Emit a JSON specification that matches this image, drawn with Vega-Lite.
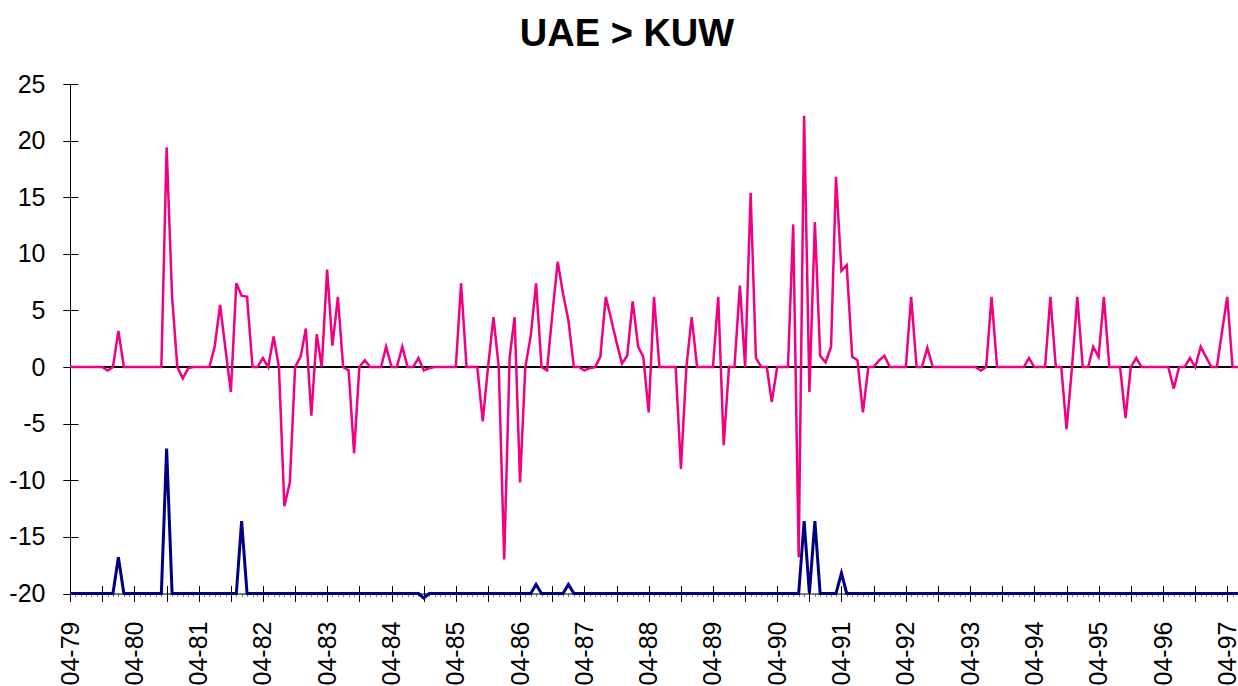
{
  "$schema": "https://vega.github.io/schema/vega-lite/v6.json",
  "autosize": "none",
  "width": 1168,
  "height": 509.5,
  "padding": {"left": 70, "top": 84, "right": 0, "bottom": 92.5},
  "background": "white",
  "config": {
    "view": {"stroke": null},
    "font": "Liberation Sans",
    "axis": {"grid": false, "title": null, "labelFont": "Liberation Sans", "labelColor": "black", "tickColor": "black", "domainColor": "black"}
  },
  "title": {
    "text": "UAE > KUW",
    "font": "Liberation Sans",
    "fontSize": 38,
    "fontWeight": "bold",
    "color": "black",
    "anchor": "middle",
    "frame": "group",
    "dx": -27,
    "offset": 18
  },
  "data": {
    "format": {"parse": {"m": "utc:'%Y-%m'"}},
    "values": [
      {"m":"1979-04","p":0,"n":-20},{"m":"1979-05","p":0,"n":-20},{"m":"1979-06","p":0,"n":-20},{"m":"1979-07","p":0,"n":-20},{"m":"1979-08","p":0,"n":-20},{"m":"1979-09","p":0,"n":-20},{"m":"1979-10","p":0,"n":-20},{"m":"1979-11","p":-0.3,"n":-20},{"m":"1979-12","p":0,"n":-20},
      {"m":"1980-01","p":3.2,"n":-16.8},{"m":"1980-02","p":0,"n":-20},{"m":"1980-03","p":0,"n":-20},{"m":"1980-04","p":0,"n":-20},{"m":"1980-05","p":0,"n":-20},{"m":"1980-06","p":0,"n":-20},{"m":"1980-07","p":0,"n":-20},{"m":"1980-08","p":0,"n":-20},{"m":"1980-09","p":0,"n":-20},{"m":"1980-10","p":19.4,"n":-7.2},{"m":"1980-11","p":6.2,"n":-20},{"m":"1980-12","p":0,"n":-20},
      {"m":"1981-01","p":-1.0,"n":-20},{"m":"1981-02","p":-0.1,"n":-20},{"m":"1981-03","p":0,"n":-20},{"m":"1981-04","p":0,"n":-20},{"m":"1981-05","p":0,"n":-20},{"m":"1981-06","p":0,"n":-20},{"m":"1981-07","p":1.8,"n":-20},{"m":"1981-08","p":5.5,"n":-20},{"m":"1981-09","p":1.5,"n":-20},{"m":"1981-10","p":-2.2,"n":-20},{"m":"1981-11","p":7.4,"n":-20},{"m":"1981-12","p":6.3,"n":-13.6},
      {"m":"1982-01","p":6.2,"n":-20},{"m":"1982-02","p":0,"n":-20},{"m":"1982-03","p":0,"n":-20},{"m":"1982-04","p":0.8,"n":-20},{"m":"1982-05","p":0,"n":-20},{"m":"1982-06","p":2.7,"n":-20},{"m":"1982-07","p":0,"n":-20},{"m":"1982-08","p":-12.3,"n":-20},{"m":"1982-09","p":-10.2,"n":-20},{"m":"1982-10","p":0,"n":-20},{"m":"1982-11","p":0.9,"n":-20},{"m":"1982-12","p":3.4,"n":-20},
      {"m":"1983-01","p":-4.3,"n":-20},{"m":"1983-02","p":2.9,"n":-20},{"m":"1983-03","p":0,"n":-20},{"m":"1983-04","p":8.6,"n":-20},{"m":"1983-05","p":1.9,"n":-20},{"m":"1983-06","p":6.2,"n":-20},{"m":"1983-07","p":0,"n":-20},{"m":"1983-08","p":-0.3,"n":-20},{"m":"1983-09","p":-7.6,"n":-20},{"m":"1983-10","p":0,"n":-20},{"m":"1983-11","p":0.6,"n":-20},{"m":"1983-12","p":0,"n":-20},
      {"m":"1984-01","p":0,"n":-20},{"m":"1984-02","p":0,"n":-20},{"m":"1984-03","p":1.8,"n":-20},{"m":"1984-04","p":0,"n":-20},{"m":"1984-05","p":0,"n":-20},{"m":"1984-06","p":1.8,"n":-20},{"m":"1984-07","p":0,"n":-20},{"m":"1984-08","p":0,"n":-20},{"m":"1984-09","p":0.8,"n":-20},{"m":"1984-10","p":-0.3,"n":-20.4},{"m":"1984-11","p":-0.1,"n":-20},{"m":"1984-12","p":0,"n":-20},
      {"m":"1985-01","p":0,"n":-20},{"m":"1985-02","p":0,"n":-20},{"m":"1985-03","p":0,"n":-20},{"m":"1985-04","p":0,"n":-20},{"m":"1985-05","p":7.4,"n":-20},{"m":"1985-06","p":0,"n":-20},{"m":"1985-07","p":0,"n":-20},{"m":"1985-08","p":0,"n":-20},{"m":"1985-09","p":-4.8,"n":-20},{"m":"1985-10","p":0,"n":-20},{"m":"1985-11","p":4.4,"n":-20},{"m":"1985-12","p":0,"n":-20},
      {"m":"1986-01","p":-17.0,"n":-20},{"m":"1986-02","p":0.9,"n":-20},{"m":"1986-03","p":4.4,"n":-20},{"m":"1986-04","p":-10.2,"n":-20},{"m":"1986-05","p":0,"n":-20},{"m":"1986-06","p":2.8,"n":-20},{"m":"1986-07","p":7.4,"n":-19.2},{"m":"1986-08","p":0,"n":-20},{"m":"1986-09","p":-0.3,"n":-20},{"m":"1986-10","p":4.6,"n":-20},{"m":"1986-11","p":9.3,"n":-20},{"m":"1986-12","p":6.5,"n":-20},
      {"m":"1987-01","p":4.1,"n":-19.2},{"m":"1987-02","p":0,"n":-20},{"m":"1987-03","p":0,"n":-20},{"m":"1987-04","p":-0.3,"n":-20},{"m":"1987-05","p":-0.1,"n":-20},{"m":"1987-06","p":0,"n":-20},{"m":"1987-07","p":0.9,"n":-20},{"m":"1987-08","p":6.2,"n":-20},{"m":"1987-09","p":4.2,"n":-20},{"m":"1987-10","p":2.2,"n":-20},{"m":"1987-11","p":0.3,"n":-20},{"m":"1987-12","p":1.0,"n":-20},
      {"m":"1988-01","p":5.8,"n":-20},{"m":"1988-02","p":1.8,"n":-20},{"m":"1988-03","p":0.9,"n":-20},{"m":"1988-04","p":-4.0,"n":-20},{"m":"1988-05","p":6.2,"n":-20},{"m":"1988-06","p":0,"n":-20},{"m":"1988-07","p":0,"n":-20},{"m":"1988-08","p":0,"n":-20},{"m":"1988-09","p":0,"n":-20},{"m":"1988-10","p":-9.0,"n":-20},{"m":"1988-11","p":0,"n":-20},{"m":"1988-12","p":4.4,"n":-20},
      {"m":"1989-01","p":0,"n":-20},{"m":"1989-02","p":0,"n":-20},{"m":"1989-03","p":0,"n":-20},{"m":"1989-04","p":0,"n":-20},{"m":"1989-05","p":6.2,"n":-20},{"m":"1989-06","p":-6.9,"n":-20},{"m":"1989-07","p":0,"n":-20},{"m":"1989-08","p":0,"n":-20},{"m":"1989-09","p":7.2,"n":-20},{"m":"1989-10","p":0,"n":-20},{"m":"1989-11","p":15.4,"n":-20},{"m":"1989-12","p":0.8,"n":-20},
      {"m":"1990-01","p":0,"n":-20},{"m":"1990-02","p":0,"n":-20},{"m":"1990-03","p":-3.1,"n":-20},{"m":"1990-04","p":0,"n":-20},{"m":"1990-05","p":0,"n":-20},{"m":"1990-06","p":0,"n":-20},{"m":"1990-07","p":12.6,"n":-20},{"m":"1990-08","p":-16.8,"n":-20},{"m":"1990-09","p":22.2,"n":-13.6},{"m":"1990-10","p":-2.2,"n":-20},{"m":"1990-11","p":12.8,"n":-13.6},{"m":"1990-12","p":1.0,"n":-20},
      {"m":"1991-01","p":0.4,"n":-20},{"m":"1991-02","p":1.8,"n":-20},{"m":"1991-03","p":16.8,"n":-20},{"m":"1991-04","p":8.5,"n":-18.2},{"m":"1991-05","p":9.0,"n":-20},{"m":"1991-06","p":0.9,"n":-20},{"m":"1991-07","p":0.6,"n":-20},{"m":"1991-08","p":-4.0,"n":-20},{"m":"1991-09","p":0,"n":-20},{"m":"1991-10","p":0,"n":-20},{"m":"1991-11","p":0.6,"n":-20},{"m":"1991-12","p":1.0,"n":-20},
      {"m":"1992-01","p":0,"n":-20},{"m":"1992-02","p":0,"n":-20},{"m":"1992-03","p":0,"n":-20},{"m":"1992-04","p":0,"n":-20},{"m":"1992-05","p":6.2,"n":-20},{"m":"1992-06","p":0,"n":-20},{"m":"1992-07","p":0,"n":-20},{"m":"1992-08","p":1.7,"n":-20},{"m":"1992-09","p":0,"n":-20},{"m":"1992-10","p":0,"n":-20},{"m":"1992-11","p":0,"n":-20},{"m":"1992-12","p":0,"n":-20},
      {"m":"1993-01","p":0,"n":-20},{"m":"1993-02","p":0,"n":-20},{"m":"1993-03","p":0,"n":-20},{"m":"1993-04","p":0,"n":-20},{"m":"1993-05","p":0,"n":-20},{"m":"1993-06","p":-0.3,"n":-20},{"m":"1993-07","p":0,"n":-20},{"m":"1993-08","p":6.2,"n":-20},{"m":"1993-09","p":0,"n":-20},{"m":"1993-10","p":0,"n":-20},{"m":"1993-11","p":0,"n":-20},{"m":"1993-12","p":0,"n":-20},
      {"m":"1994-01","p":0,"n":-20},{"m":"1994-02","p":0,"n":-20},{"m":"1994-03","p":0.8,"n":-20},{"m":"1994-04","p":0,"n":-20},{"m":"1994-05","p":0,"n":-20},{"m":"1994-06","p":0,"n":-20},{"m":"1994-07","p":6.2,"n":-20},{"m":"1994-08","p":0,"n":-20},{"m":"1994-09","p":0,"n":-20},{"m":"1994-10","p":-5.5,"n":-20},{"m":"1994-11","p":0,"n":-20},{"m":"1994-12","p":6.2,"n":-20},
      {"m":"1995-01","p":0,"n":-20},{"m":"1995-02","p":0,"n":-20},{"m":"1995-03","p":1.8,"n":-20},{"m":"1995-04","p":0.9,"n":-20},{"m":"1995-05","p":6.2,"n":-20},{"m":"1995-06","p":0,"n":-20},{"m":"1995-07","p":0,"n":-20},{"m":"1995-08","p":0,"n":-20},{"m":"1995-09","p":-4.5,"n":-20},{"m":"1995-10","p":0,"n":-20},{"m":"1995-11","p":0.8,"n":-20},{"m":"1995-12","p":0,"n":-20},
      {"m":"1996-01","p":0,"n":-20},{"m":"1996-02","p":0,"n":-20},{"m":"1996-03","p":0,"n":-20},{"m":"1996-04","p":0,"n":-20},{"m":"1996-05","p":0,"n":-20},{"m":"1996-06","p":-1.9,"n":-20},{"m":"1996-07","p":0,"n":-20},{"m":"1996-08","p":0,"n":-20},{"m":"1996-09","p":0.8,"n":-20},{"m":"1996-10","p":0,"n":-20},{"m":"1996-11","p":1.8,"n":-20},{"m":"1996-12","p":0.9,"n":-20},
      {"m":"1997-01","p":0,"n":-20},{"m":"1997-02","p":0,"n":-20},{"m":"1997-03","p":3.0,"n":-20},{"m":"1997-04","p":6.2,"n":-20},{"m":"1997-05","p":0,"n":-20},{"m":"1997-06","p":0,"n":-20}
    ]
  },
  "resolve": {"axis": {"x": "independent", "y": "independent"}},
  "layer": [
    {
      "mark": {"type": "rule", "color": "black", "strokeWidth": 1},
      "encoding": {
        "y": {"datum": 0, "type": "quantitative", "scale": {"domain": [-20, 25], "nice": false, "zero": false}, "axis": null}
      }
    },
    {
      "mark": {"type": "line", "color": "#F00082", "strokeWidth": 2.5},
      "encoding": {
        "x": {
          "field": "m", "type": "temporal",
          "scale": {"type": "utc", "nice": false, "padding": 0},
          "axis": {
            "orient": "bottom",
            "tickCount": {"interval": "month", "step": 1},
            "tickSize": 3,
            "tickWidth": 1,
            "tickColor": "#808080",
            "domain": true,
            "domainWidth": 1,
            "labelAngle": -90,
            "labelFontSize": 25,
            "labelPadding": 24.5,
            "labelFlush": false,
            "labelOverlap": false,
            "labelBound": false,
            "labelExpr": "utcFormat(datum.value, '%m') == '04' ? utcFormat(datum.value, '%m-%y') : ''"
          }
        },
        "y": {
          "field": "p", "type": "quantitative",
          "scale": {"domain": [-20, 25], "nice": false, "zero": false},
          "axis": {
            "orient": "left",
            "values": [-20, -15, -10, -5, 0, 5, 10, 15, 20, 25],
            "tickSize": 7,
            "domain": true,
            "domainWidth": 1,
            "labelFontSize": 25,
            "labelPadding": 18,
            "labelExpr": "'' + datum.value"
          }
        }
      }
    },
    {
      "mark": {"type": "line", "color": "#000080", "strokeWidth": 3},
      "encoding": {
        "x": {
          "field": "m", "type": "temporal",
          "scale": {"type": "utc", "nice": false, "padding": 0},
          "axis": {
            "orient": "bottom",
            "values": [
              {"year":1979,"month":4,"date":1,"utc":true},{"year":1979,"month":10,"date":1,"utc":true},
              {"year":1980,"month":4,"date":1,"utc":true},{"year":1980,"month":10,"date":1,"utc":true},
              {"year":1981,"month":4,"date":1,"utc":true},{"year":1981,"month":10,"date":1,"utc":true},
              {"year":1982,"month":4,"date":1,"utc":true},{"year":1982,"month":10,"date":1,"utc":true},
              {"year":1983,"month":4,"date":1,"utc":true},{"year":1983,"month":10,"date":1,"utc":true},
              {"year":1984,"month":4,"date":1,"utc":true},{"year":1984,"month":10,"date":1,"utc":true},
              {"year":1985,"month":4,"date":1,"utc":true},{"year":1985,"month":10,"date":1,"utc":true},
              {"year":1986,"month":4,"date":1,"utc":true},{"year":1986,"month":10,"date":1,"utc":true},
              {"year":1987,"month":4,"date":1,"utc":true},{"year":1987,"month":10,"date":1,"utc":true},
              {"year":1988,"month":4,"date":1,"utc":true},{"year":1988,"month":10,"date":1,"utc":true},
              {"year":1989,"month":4,"date":1,"utc":true},{"year":1989,"month":10,"date":1,"utc":true},
              {"year":1990,"month":4,"date":1,"utc":true},{"year":1990,"month":10,"date":1,"utc":true},
              {"year":1991,"month":4,"date":1,"utc":true},{"year":1991,"month":10,"date":1,"utc":true},
              {"year":1992,"month":4,"date":1,"utc":true},{"year":1992,"month":10,"date":1,"utc":true},
              {"year":1993,"month":4,"date":1,"utc":true},{"year":1993,"month":10,"date":1,"utc":true},
              {"year":1994,"month":4,"date":1,"utc":true},{"year":1994,"month":10,"date":1,"utc":true},
              {"year":1995,"month":4,"date":1,"utc":true},{"year":1995,"month":10,"date":1,"utc":true},
              {"year":1996,"month":4,"date":1,"utc":true},{"year":1996,"month":10,"date":1,"utc":true},
              {"year":1997,"month":4,"date":1,"utc":true}
            ],
            "tickSize": 16,
            "offset": -8,
            "domain": false,
            "labels": false
          }
        },
        "y": {
          "field": "n", "type": "quantitative",
          "scale": {"domain": [-20, 25], "nice": false, "zero": false},
          "axis": {
            "orient": "left",
            "values": [-20, -15, -10, -5, 0, 5, 10, 15, 20, 25],
            "tickSize": 15,
            "offset": -8,
            "domain": false,
            "labels": false
          }
        }
      }
    }
  ]
}
